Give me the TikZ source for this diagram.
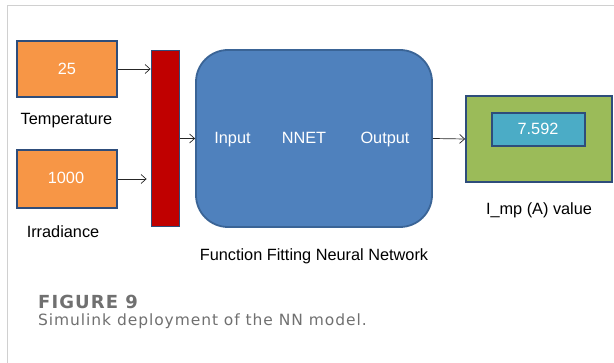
\documentclass[tikz,border=0pt]{standalone}
\usepackage{fontspec}
\setmainfont{Liberation Sans}
\newfontfamily\capfont[LetterSpace=6]{DejaVu Sans}
\newfontfamily\capheadfont[LetterSpace=6]{DejaVu Sans}
\usetikzlibrary{arrows.meta}
\definecolor{edgeblue}{HTML}{2E4D7B}
\definecolor{srcorange}{HTML}{F79646}
\definecolor{muxred}{HTML}{C00000}
\definecolor{netblue}{HTML}{4F81BD}
\definecolor{netedge}{HTML}{3A6496}
\definecolor{outgreen}{HTML}{9BBB59}
\definecolor{dispteal}{HTML}{4BACC6}
\definecolor{framegray}{HTML}{D0D0D0}
\definecolor{capgray}{HTML}{707070}
\tikzset{
  blk/.style={draw=edgeblue, line width=1.8pt, inner sep=0pt},
  lbl/.style={anchor=base, inner sep=0pt, font=\fontsize{16.3}{18}\selectfont},
  wlbl/.style={lbl, text=white},
  sig/.style={draw=black!85, line width=0.7pt, -{Straight Barb[length=5pt,width=9pt]}}
}
\begin{document}
\begin{tikzpicture}[x=1pt,y=-1pt]
\useasboundingbox (0,0) rectangle (614,363);
% outer frame lines
\draw[framegray, line width=0.8pt] (7,363) -- (7,5) -- (614,5);
% sources
\node[blk, fill=srcorange, minimum width=100pt, minimum height=56pt] (temp) at (67,69) {};
\node[wlbl] (tempv) at (67,75) {25};
\node[lbl] (templ) at (66.5,125) {Temperature};
\node[blk, fill=srcorange, minimum width=100pt, minimum height=58pt] (irr) at (67,179) {};
\node[wlbl] (irrv) at (66,184) {1000};
\node[lbl] (irrl) at (63,238) {Irradiance};
% mux bar
\node[blk, fill=muxred, minimum width=28pt, minimum height=176pt] (mux) at (165.5,138.5) {};
% neural network block
\node[draw=netedge, line width=1.8pt, fill=netblue, rounded corners=32pt, minimum width=236pt, minimum height=177pt] (net) at (314,138.5) {};
\node[wlbl] (nin) at (232.5,144) {Input};
\node[wlbl] (nname) at (304,144) {NNET};
\node[wlbl] (nout) at (385,144) {Output};
\node[lbl] (netl) at (314,261) {Function Fitting Neural Network};
% display
\node[blk, fill=outgreen, minimum width=146pt, minimum height=86pt] (disp) at (539,139) {};
\node[blk, fill=dispteal, minimum width=93pt, minimum height=33pt] (val) at (538.5,129.5) {};
\node[wlbl] (valt) at (538,135) {7.592};
\node[lbl] (displ) at (539,215) {I\_mp (A) value};
% signal lines
\coordinate (m1) at (mux.west |- temp.east);
\coordinate (m2) at ([xshift=-4pt]mux.west |- irr.east);
\draw[sig] (temp.east) -- (m1);
\draw[sig] (irr.east) -- (m2);
\draw[sig] (mux.east) -- (net.west);
\draw[sig] (net.east) -- (disp.west);
% caption
\node[anchor=base west, inner sep=0pt, text=capgray, font=\capheadfont\fontsize{18}{20}\selectfont\bfseries] (fig) at (38,309) {FIGURE 9};
\node[anchor=base west, inner sep=0pt, text=capgray, font=\capfont\fontsize{15.5}{18}\selectfont] (cap) at (38,326) {Simulink deployment of the NN model.};
\end{tikzpicture}
\end{document}
